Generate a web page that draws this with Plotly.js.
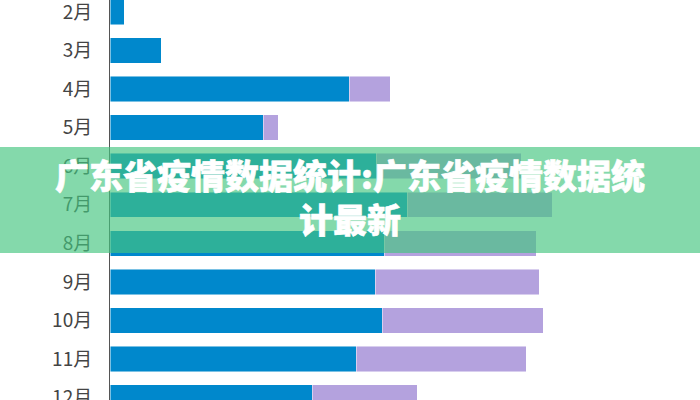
<!DOCTYPE html>
<html>
<head>
<meta charset="utf-8">
<script src="https://cdn.plot.ly/plotly-3.0.1.min.js"></script>
<style>
    html, body { margin: 0; padding: 0; background: #ffffff; }
    #chart { width: 700px; height: 400px; }
    /* a bit heavier title glyphs, the reference uses a black weight */
    #chart .annotation-text { stroke: #ffffff; stroke-width: 0.6px; stroke-linejoin: round; }
</style>
</head>
<body>
<div id="chart"></div>
<script>
// months on the category axis, top to bottom
var months = ["2月", "3月", "4月", "5月", "6月", "7月", "8月", "9月", "10月", "11月", "12月"]

// blue part and purple part of each stacked bar
var blueValues = [14, 51, 239, 153, 266, 297, 274, 265, 272, 246, 202]
var purpleValues = [0, 0, 41, 15, 145, 145, 152, 164, 161, 170, 105]

var titleText = "广东省疫情数据统计:广东省疫情数据统<br>计最新"

var colors = [
    "#0088CC",
    "#B4A2DE",
]

var data = [
    {
        type: 'bar',
        orientation: 'h',
        y: months,
        x: blueValues,
        name: '蓝',
        marker: {
            color: colors[0],
            line: { color: 'rgba(255,255,255,0.6)', width: 0.8 }
        },
        hoverinfo: 'x+y'
    },
    {
        type: 'bar',
        orientation: 'h',
        y: months,
        x: purpleValues,
        name: '紫',
        marker: {
            color: colors[1],
            line: { color: 'rgba(255,255,255,0.6)', width: 0.8 }
        },
        hoverinfo: 'x+y'
    }
]

var layout = {
    width: 700,
    height: 400,
    margin: { l: 110, r: 0, t: 0, b: 0 },
    paper_bgcolor: '#ffffff',
    plot_bgcolor: '#ffffff',
    barmode: 'stack',
    bargap: 0.34,
    showlegend: false,
    font: {
        family: '"Noto Sans CJK SC", "Noto Sans", sans-serif',
        color: '#444444',
    },
    xaxis: {
        range: [0, 590],
        showgrid: false,
        zeroline: false,
        showticklabels: false,
        fixedrange: true,
    },
    yaxis: {
        type: 'category',
        categoryorder: 'array',
        categoryarray: months,
        range: [10.064, -0.31], // picture is cropped top and bottom
        showline: true,
        linecolor: '#555555',
        linewidth: 1,
        showgrid: false,
        zeroline: false,
        ticks: '',
        ticklabelstandoff: 13,
        tickfont: { size: 19, color: '#444444' },
        fixedrange: true,
    },
    shapes: [
        {
            // green banner across the middle
            type: 'rect',
            xref: 'paper', yref: 'paper',
            x0: -110 / 590, x1: 1,
            y0: 1 - 253 / 400, y1: 1 - 147 / 400,
            fillcolor: 'rgba(68,197,128,0.66)',
            line: { width: 0 },
            layer: 'above'
        }
    ],
    annotations: [
        {
            xref: 'paper', yref: 'paper',
            x: (350 - 110) / 590, y: 1 - 197 / 400,
            xanchor: 'center', yanchor: 'middle',
            text: titleText,
            showarrow: false,
            align: 'center',
            font: {
                family: '"Noto Sans CJK SC", sans-serif',
                size: 34,
                weight: 900,
                color: '#ffffff'
            }
        }
    ]
}

var config = {
    displayModeBar: false,
    staticPlot: true,
}

Plotly.newPlot('chart', data, layout, config)
</script>
</body>
</html>
